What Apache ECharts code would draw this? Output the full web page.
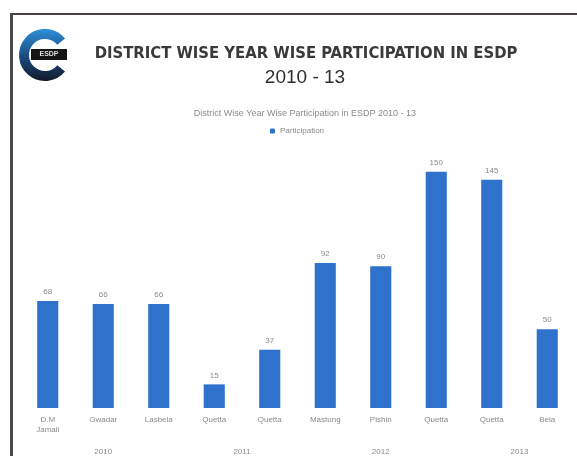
<!DOCTYPE html>
<html>
<head>
<meta charset="utf-8">
<script src="https://cdn.jsdelivr.net/npm/echarts@6/dist/echarts.min.js"></script>
<style>
  html, body { margin: 0; padding: 0; background: #ffffff; }
  #chart { width: 577px; height: 456px; }
</style>
</head>
<body>
<div id="chart"></div>
<script>
// District names, one per bar
const districts = ['D.M\nJamali', 'Gwadar', 'Lasbela', 'Quetta', 'Quetta',
                   'Mastung', 'Pishin', 'Quetta', 'Quetta', 'Bela'];
// Participants per district
const participation = [68, 66, 66, 15, 37, 92, 90, 150, 145, 50];
// Year groups and how many districts fall under each
const years = ['2010', '2011', '2012', '2013'];
const yearSizes = [3, 2, 3, 2];

// centre of each year group on a 0..N scale shared with the bars
const yearCentres = [];
let start = 0;
yearSizes.forEach(n => { yearCentres.push(start + n / 2); start += n; });

const chart = echarts.init(document.getElementById('chart'), null, { renderer: 'canvas' });

const option = {
  backgroundColor: '#ffffff',
  animation: false,
  title: [
    {
      text: 'DISTRICT WISE YEAR WISE PARTICIPATION IN ESDP',
      left: 301, top: 40, textAlign: 'center',
      textStyle: { fontFamily: 'DejaVu Sans Condensed, Liberation Sans Narrow, sans-serif',
                   fontSize: 16.5, fontWeight: 'bold', color: '#3a3a3a' }
    },
    {
      text: '2010 - 13',
      left: 300, top: 63, textAlign: 'center',
      textStyle: { fontFamily: 'Liberation Sans Narrow, sans-serif',
                   fontSize: 19, fontWeight: 'normal', color: '#2e2e2e' }
    },
    {
      text: 'District Wise Year Wise Participation in ESDP 2010 - 13',
      left: 300, top: 104, textAlign: 'center',
      textStyle: { fontFamily: 'Liberation Sans Narrow, sans-serif',
                   fontSize: 9, fontWeight: 'normal', color: '#8a8a8a' }
    }
  ],
  legend: {
    data: ['Participation'],
    top: 122, left: 265, itemWidth: 5, itemHeight: 5, itemGap: 4,
    textStyle: { fontSize: 8, color: '#8a8a8a', fontFamily: 'Liberation Sans Narrow, sans-serif' }
  },
  grid: { left: 20, right: 2, top: 156, bottom: 47 },
  xAxis: [
    {
      type: 'category',
      data: districts,
      axisLine: { show: false },
      axisTick: { show: false },
      axisLabel: {
        interval: 0, margin: 7, fontSize: 8, lineHeight: 10, color: '#8a8a8a',
        fontFamily: 'Liberation Sans Narrow, sans-serif'
      }
    },
    {
      type: 'value',
      position: 'bottom',
      min: 0, max: districts.length,
      offset: 36,
      splitLine: { show: false },
      axisLine: { show: false },
      axisTick: { show: false },
      axisLabel: {
        customValues: yearCentres,
        formatter: v => years[yearCentres.indexOf(v)] || '',
        fontSize: 8, color: '#8a8a8a', margin: 4,
        fontFamily: 'Liberation Sans Narrow, sans-serif'
      }
    }
  ],
  yAxis: {
    type: 'value', min: 0, max: 160, show: false
  },
  series: [
    {
      name: 'Participation',
      type: 'bar',
      xAxisIndex: 0,
      data: participation,
      barCategoryGap: '62%',
      itemStyle: { color: '#2e72cc' },
      label: {
        show: true, position: 'top', distance: 5, fontSize: 8, color: '#8a8a8a',
        fontFamily: 'Liberation Sans Narrow, sans-serif'
      }
    }
  ],
  graphic: [
    // slide frame
    { type: 'rect', shape: { x: 10, y: 13, width: 567, height: 2 }, style: { fill: '#4a4040' }, silent: true },
    { type: 'rect', shape: { x: 10, y: 13, width: 3, height: 443 }, style: { fill: '#4a4a4a' }, silent: true },
    // logo ring
    {
      type: 'arc',
      shape: { cx: 45, cy: 55, r: 21, startAngle: Math.PI * 0.22, endAngle: Math.PI * 1.78, clockwise: true },
      style: {
        fill: 'none', lineWidth: 10, lineCap: 'butt',
        stroke: new echarts.graphic.LinearGradient(0, 0, 0, 1, [
          { offset: 0, color: '#2f8fd8' }, { offset: 0.5, color: '#1c4f86' }, { offset: 1, color: '#101a2a' }
        ])
      },
      silent: true
    },
    { type: 'rect', shape: { x: 31, y: 49, width: 36, height: 11 }, style: { fill: '#151515' }, silent: true },
    {
      type: 'text', x: 49, y: 54.5,
      style: { text: 'ESDP', fill: '#dcdcdc', fontSize: 7, fontWeight: 'bold', align: 'center', verticalAlign: 'middle' },
      silent: true
    }
  ]
};

chart.setOption(option);
</script>
</body>
</html>
